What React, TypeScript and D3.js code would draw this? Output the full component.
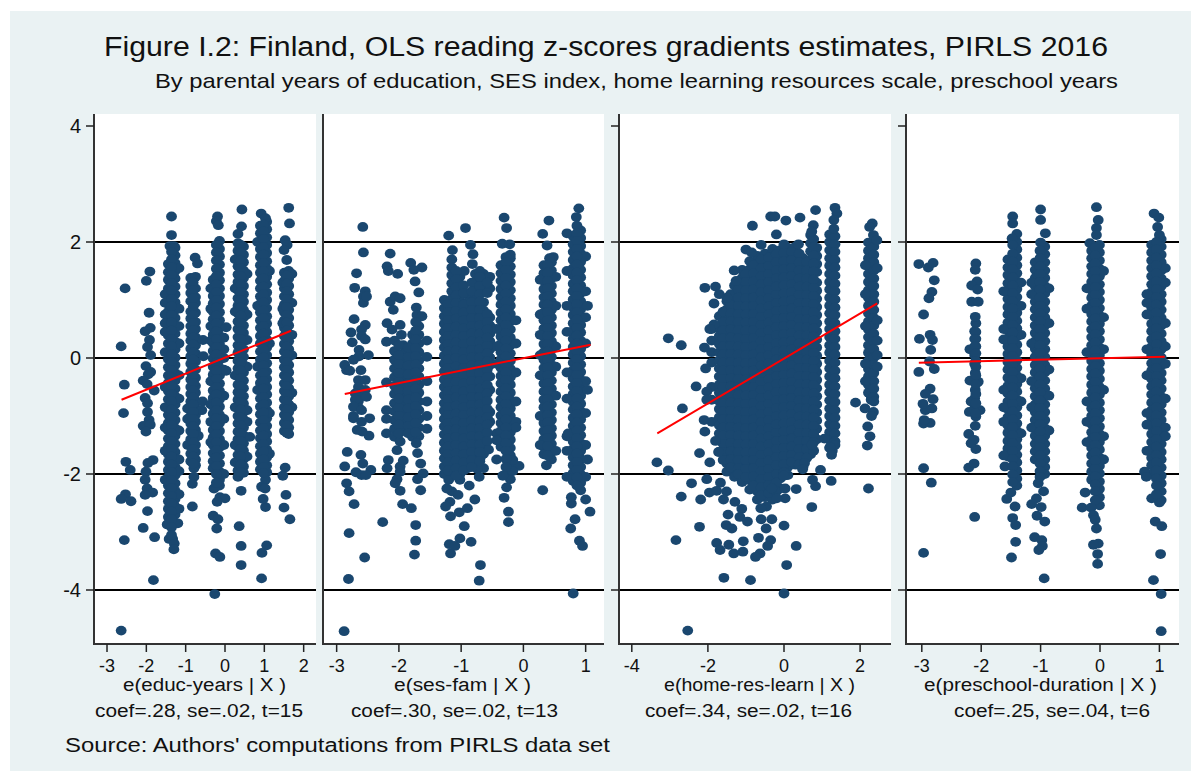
import React from "react";
import * as d3 from "d3";

// Each strand is [x, y, y, y ...].
const educOutliers = [
  [-2.54,1.2],[-2.64,.2],[-2.56,-.46],[-2.58,-.95],[-2.52,-1.79],[-2.41,-1.93],[-2.53,-2.35],[-2.64,-2.43],[-2.39,-2.47],[-2.56,-3.14],[-2.64,-4.7],
  [-1.91,1.49],[-2,1.33],[-1.93,.78],[-1.9,.52],[-2.03,.46],[-1.92,.31],[-1.97,.19],[-1.89,.05],[-2.01,-.14],[-1.89,-.24],[-1.95,-.28],[-2.08,-.39],[-1.98,-.45],[-1.8,-.56],[-2.03,-.69],[-1.97,-.78],[-1.97,-.93],[-1.93,-1.07],[-2.08,-1.17],[-1.9,-1.15],[-2.01,-1.27],[-1.83,-1.76],[-1.96,-1.81],[-2.01,-1.96],[-2.03,-2.1],[-1.98,-2.25],[-1.84,-2.32],[-2.03,-2.36],[-1.97,-2.64],[-2.08,-2.93],[-1.79,-3.09],[-1.82,-3.83],
];
const educCol1 = [
  [-1.44,1.62,1.48,1.35,1.2,1.07,.93,.8,.66,.52,.39,.25,.11,-.02,-.16,-.3,-.43,-.57,-.71,-.84,-.98,-1.12,-1.25,-1.39,-1.52,-1.66,-1.79,-1.93,-2.06,-2.2,-2.33,-2.47,-2.6,-2.74],
  [-1.27,1.9,1.77,1.64,1.5,1.37,1.23,1.1,.96,.83,.69,.55,.42,.28,.15,.01,-.12,-.26,-.39,-.53,-.66,-.8,-.94,-1.07,-1.21,-1.34,-1.48,-1.62,-1.75,-1.88,-2.02,-2.16,-2.29,-2.43,-2.56,-2.7,-2.84],
  [-1.52,1.1,.95,.75,.6,.45,.1,-.5,-.85,-1.2,-1.6,-2.1],
  [-1.17,1.55,.85,.55,.25,-.3,-.7,-1.25,-1.75,-1.95,-2.35,-2.6],
  [-1.36,2.44,2.12],[-1.4,1.93],[-1.3,1.93],[-1.47,-2.87],[-1.42,-3.12],[-1.33,-3.12],[-1.29,-3.2],[-1.3,-3.3],[-1.2,-2.85],
];
const educCol2 = [
  [-.87,1.38,1.24,1.12,.98,.8,.68,.55,.42,.3,.16,.03,-.1,-.24,-.37,-.5,-.62,-.75,-.88,-1,-1.13,-1.26,-1.4,-1.52,-1.65,-1.78],
  [-.75,1.4,1.2,1.05,.95,.78,.62,.5,.36,.22,.08,-.06,-.2,-.34,-.48,-.6,-.74,-.86,-.98,-1.1,-1.24,-1.37,-1.5,-1.62,-1.75,-1.85],
  [-.76,1.73],[-.7,1.63],[-.56,.31],[-.55,.03],[-.57,-.75],[-.59,-.9],[-.68,-1.34],[-.79,-1.9,-2.05],[-.83,-2.17,-2.56],[-.95,-.87,-1.05,-1.5],
];
const educCol3 = [
  [-.3,1.35,1.2,1.07,.94,.8,.67,.53,.4,.26,.12,-.01,-.15,-.29,-.42,-.56,-.69,-.83,-.96,-1.1,-1.24,-1.37,-1.5,-1.64,-1.78,-1.9],
  [-.14,2.02,1.88,1.75,1.61,1.47,1.34,1.2,1.07,.93,.79,.65,.52,.38,.24,.11,-.03,-.17,-.3,-.44,-.57,-.71,-.84,-.98,-1.12,-1.26,-1.4,-1.54,-1.68,-1.82,-1.96,-2.1,-2.2],
  [-.36,1.2,.85,.55,.3,-.4,-.8,-1.1,-1.45],
  [-.03,.35,.15,0,-.2,-.65,-1.05,-1.5,-2],
  [.03,.53,-.22],[-.19,2.44],[-.22,2.36],[-.17,2.29],[-.28,-2.25],[-.13,-2.4],[0,-2.42],[-.2,-2.48],[-.3,-2.72],[-.18,-2.78],[-.21,-2.94],[-.24,-3.37],[-.13,-3.43],[-.26,-4.07],
];
const educCol4 = [
  [.33,1.98,1.85,1.72,1.58,1.44,1.31,1.17,1.03,.9,.77,.63,.5,.36,.22,.09,-.05,-.18,-.32,-.46,-.59,-.72,-.86,-1,-1.13,-1.27,-1.4,-1.53,-1.67,-1.8,-1.94,-2.05],
  [.47,1.92,1.78,1.65,1.51,1.38,1.24,1.1,.97,.83,.7,.56,.43,.29,.15,.02,-.12,-.25,-.39,-.52,-.66,-.79,-.93,-1.06,-1.2,-1.33,-1.47,-1.6,-1.74,-1.87,-1.98],
  [.26,1.7,1.2,.8,-.3,-.85,-1.5,-1.8],[.56,1.45,.75,.31,-.15,-.9,-1.1,-1.7],[.63,-1.36],
  [.43,2.56],[.42,2.27],[.33,2.14],[.41,-2.29],[.36,-2.9],[.41,-3.24],[.41,-3.57],
];
const educCol5 = [
  [.9,2.28,2.15,2.01,1.88,1.74,1.6,1.47,1.33,1.2,1.06,.93,.79,.65,.52,.38,.25,.11,-.03,-.16,-.3,-.43,-.57,-.7,-.84,-.97,-1.11,-1.25,-1.38,-1.52,-1.65,-1.79,-1.92],
  [1.06,2.35,2.22,2.08,1.95,1.81,1.67,1.54,1.4,1.27,1.13,1,.86,.72,.59,.45,.32,.18,.05,-.09,-.23,-.36,-.5,-.63,-.77,-.9,-1.04,-1.17,-1.31,-1.44,-1.58,-1.71,-1.85,-1.97],
  [.83,2,.9,-.15,-.55],[1.13,1.5,.25,-.95,-1.65],
  [.92,2.49],[1.03,2.41],[1.03,-2.1,-2.57],[.93,-2.22],[1.02,-2.25],[.97,-2.43],[1.06,-3.23],[.94,-3.36],[.93,-3.8],
];
const educCol6 = [
  [1.51,1.47,1.33,1.2,1.06,.92,.79,.65,.52,.38,.24,.11,-.03,-.16,-.3,-.44,-.57,-.71,-.85,-.98,-1.12,-1.26],
  [1.62,1.5,1.37,1.24,1.1,.97,.83,.69,.56,.42,.29,.15,.02,-.12,-.25,-.39,-.52,-.66,-.8,-.93,-1.07,-1.2,-1.31],
  [1.47,1.3,.85,.6],[1.7,1.45,.95,.4,.05,-.6,-.85],
  [1.62,2.59],[1.64,2.32],[1.53,2.03],[1.58,1.95],[1.5,1.86],[1.57,1.69],[1.53,-1.89],[1.47,-2.03],[1.55,-2.36],[1.5,-2.58],[1.65,-2.78],
];
const educCore = [
  [-1.36,1.83,1.7,1.57,1.43,1.29,1.16,1.02,.89,.74,.61,.47,.33,.2,.06,-.07,-.21,-.34,-.48,-.62,-.75,-.89,-1.03,-1.16,-1.3,-1.43,-1.57,-1.7,-1.84,-1.97,-2.11,-2.24,-2.38,-2.51,-2.65,-2.78,-2.92,-3.05],
  [-.81,1.3,1.17,1.03,.88,.74,.6,.48,.35,.23,.1,-.03,-.17,-.3,-.43,-.56,-.68,-.8,-.93,-1.05,-1.18,-1.31,-1.45,-1.57,-1.7,-1.82],
  [-.22,1.95,1.82,1.68,1.54,1.41,1.27,1.14,1,.87,.73,.6,.46,.33,.19,.06,-.08,-.22,-.36,-.5,-.63,-.77,-.9,-1.04,-1.17,-1.31,-1.45,-1.59,-1.72,-1.86,-2,-2.15],
  [.4,1.95,1.82,1.68,1.55,1.41,1.27,1.14,1,.87,.73,.6,.46,.33,.19,.05,-.08,-.22,-.35,-.49,-.62,-.76,-.89,-1.03,-1.16,-1.3,-1.43,-1.57,-1.7,-1.84,-1.97],
  [.98,2.3,2.18,2.05,1.91,1.78,1.64,1.5,1.37,1.23,1.1,.96,.82,.69,.55,.42,.28,.15,.01,-.13,-.26,-.4,-.53,-.67,-.8,-.94,-1.07,-1.21,-1.34,-1.48,-1.61,-1.75,-1.88,-1.98],
  [1.57,1.42,1.28,1.15,1.02,.88,.74,.61,.47,.34,.2,.06,-.07,-.21,-.34,-.48,-.62,-.75,-.89,-1.02,-1.16,-1.29],
];

const sesCol1 = [
  [-2.58,2.26],[-2.57,1.82],[-2.68,1.46],[-2.71,1.21],[-2.54,1.15],[-2.57,1.06,.95],[-2.52,1.06],[-2.72,.67],[-2.54,.57],[-2.77,.44],[-2.6,.49,.38],[-2.54,.32],[-2.75,.27],[-2.64,.14,.03],[-2.49,.05],[-2.73,-.03],[-2.87,-.12],[-2.84,-.21],[-2.79,-.22],[-2.61,-.21],[-2.65,-.38,-.5,-.62,-.74,-.85],[-2.54,-.38,-.55],[-2.7,-.61,-.72],[-2.52,-.67],[-2.73,-.84,-1,-1.04],[-2.47,-1.04],[-2.6,-.9,-1.1],
  [-2.67,-1.24],[-2.48,-1.34],[-2.59,-1.27],[-2.83,-1.62],[-2.61,-1.67],[-2.58,-1.82],[-2.87,-1.87],[-2.45,-1.93],[-2.69,-1.97],[-2.6,-2.02],[-2.53,-2.02],[-2.84,-2.16],[-2.8,-2.3],[-2.72,-2.52],[-2.8,-3.02],[-2.55,-3.44],[-2.81,-3.81],[-2.88,-4.71],
];
const sesCol2 = [
  [-2.14,1.8,.97],[-2.19,1.58,.6],[-2.17,1.5],[-2.02,1.45],[-2.06,1.06],[-1.98,1.03,.57],[-2.09,.83],[-2.11,.49],[-1.96,.4],[-2.2,.28],
  [-2.2,-.42,-.9,-1.05,-1.3],
  [-2.07,.3,.12,-.03,-.18,-.33,-.48,-.62,-.78,-.92,-1.07,-1.22,-1.36],
  [-1.93,.22,.08,-.07,-.22,-.36,-.5,-.65,-.8,-.95,-1.1,-1.25],
  [-1.78,.4,.25,.1,-.05,-.2,-.35,-.5,-.64,-.8,-.94,-1.08,-1.22,-1.36],
  [-1.68,.7,.55,.4,.25,.1,-.04,-.18,-.32,-.46,-.6,-.75,-.9,-1.05,-1.2,-1.35],
  [-1.55,.3,.02,-.4,-.75,-1,-1.22],
  [-1.81,1.64],[-1.63,1.56],[-1.76,1.52],[-1.74,1.32],[-1.68,1.13],[-1.72,.87],[-1.71,.74],[-1.63,.72],
  [-1.98,-1.44,-1.87,-1.96,-2.29],[-2.03,-1.59,-2.09],[-2.17,-1.76],[-2.19,-1.9],[-1.93,-1.77],[-2.06,-2.16],[-1.94,-2.52],[-1.8,-2.59],[-2.26,-2.83],[-1.65,-2.28,-1.82],[-1.7,-2.09,-1.64],[-1.61,-1.99],[-1.72,-1.47],[-1.73,-2.88,-3.15],[-1.75,-3.39],
];
const sesCol3 = [
  [-1.27,1.0,.86,.72,.59,.45,.31,.18,.04,-.1,-.23,-.37,-.5,-.64,-.78,-.91,-1.05,-1.18,-1.32,-1.46,-1.6,-1.73,-1.87,-2],
  [-1.15,1.7,1.56,1.43,1.29,1.15,1.02,.88,.75,.61,.47,.34,.2,.07,-.07,-.2,-.34,-.48,-.61,-.75,-.88,-1.02,-1.16,-1.29,-1.43,-1.56,-1.7,-1.84,-1.97,-2.3],
  [-1.02,1.4,1.26,1.13,.99,.85,.72,.58,.44,.31,.17,.04,-.1,-.24,-.37,-.51,-.64,-.78,-.92,-1.05,-1.19,-1.32,-1.46,-1.6,-1.73,-1.87,-2,-2.1],
  [-.9,1.1,.96,.82,.68,.55,.41,.28,.14,0,-.13,-.27,-.4,-.54,-.68,-.81,-.95,-1.08,-1.22,-1.36,-1.49,-1.63,-1.76,-1.9],
  [-.77,1.45,1.31,1.17,1.03,.9,.76,.62,.49,.35,.21,.08,-.06,-.19,-.33,-.47,-.6,-.74,-.87,-1.01,-1.15,-1.28,-1.42,-1.56,-1.69,-1.85],
  [-.64,1.45,1.3,1.16,.96,.82,.69,.55,.41,.28,.14,0,-.13,-.27,-.41,-.54,-.68,-.82,-.95,-1.09,-1.23,-1.36,-1.5,-1.65,-1.9],
  [-.54,1.4,1.2,.7,.56,.42,.29,.15,.01,-.12,-.32,-.55,-.93,-1.1],
  [-1.2,2.11],[-1.14,1.86],[-.93,2.24],[-.85,1.95],[-.81,1.79],[-.82,1.62],[-.7,1.5],[-.95,1.5],
  [-1.23,-2.25],[-1.2,-2.1],[-1.05,-2.36],[-1.18,-2.48],[-1.25,-2.56],[-1.17,-2.73,-3.37],[-1.03,-2.66],[-.9,-2.59],[-.78,-2.44],[-.87,-2.2],[-.71,-2.05,-3.84],[-.74,-1.91],[-.69,-1.71,-3.57],[-.56,-1.58],[-.95,-2.9],[-1.02,-3.11],[-1.19,-3.21],[-1.1,-3.24],[-.84,-3.17],[-.55,-.94],[-.43,-1.3],
];
const sesCol4 = [
  [-.36,1.6,1.46,1.33,1.19,1.05,.92,.78,.65,.51,.37,.24,.1,-.03,-.17,-.31,-.44,-.58,-.72,-.85,-.99,-1.12,-1.26,-1.4,-1.53],
  [-.21,1.72,1.58,1.44,1.31,1.17,1.03,.9,.76,.63,.49,.35,.22,.08,-.05,-.19,-.33,-.46,-.6,-.73,-.87,-1,-1.14,-1.28,-1.41,-1.55,-1.68,-1.82,-1.95,-2.09],
  [-.12,.65,.25,-.25,-.75,-1.1,-1.2],[-.43,.5,.2,-.1,-1.42,-1.75],
  [-.31,2.42,-2.41],[-.27,2.24,-2.23],[-.34,1.97],[-.22,1.96],[-.21,1.78],[-.28,1.74],[-.24,-2.65,-2.83],[-.07,-1.86],[-.17,-1.76,-1.95],[-.33,-2.03],
];
const sesCol5 = [
  [.33,1.6,1.46,1.33,1.19,1.05,.92,.78,.65,.51,.37,.24,.1,-.03,-.17,-.31,-.44,-.58,-.72,-.85,-.99,-1.12,-1.26,-1.4,-1.53,-1.66],
  [.45,1.65,1.51,1.38,1.24,1.11,.97,.83,.7,.56,.43,.29,.15,.02,-.12,-.25,-.39,-.53,-.66,-.8,-.94,-1.07,-1.21,-1.34,-1.48,-1.62,-1.75],
  [.27,1.35,.75,.4,.05,-.3,-1.0,-1.5],[.52,1.4,.9,.2,-.15,-.65,-1.6],
  [.41,2.37],[.31,2.14,-2.28],[.38,1.94],[.48,1.74],[.42,1.72],[.37,-1.85],
];
const sesCol6 = [
  [.8,2.1,1.96,1.83,1.69,1.55,1.42,1.28,1.15,1.01,.87,.74,.6,.47,.33,.19,.06,-.08,-.21,-.35,-.49,-.62,-.76,-.89,-1.03,-1.17,-1.3,-1.44,-1.57,-1.71,-1.85,-1.98,-2.12],
  [.92,2.2,2.07,1.93,1.8,1.66,1.52,1.39,1.25,1.12,.98,.84,.71,.57,.44,.3,.16,.03,-.11,-.24,-.38,-.52,-.65,-.79,-.92,-1.06,-1.2,-1.33,-1.47,-1.6,-1.74,-1.88,-2.01,-2.15,-2.28],
  [.7,2.15,1.5,.9,.45,-.25,-.7,-1.35,-1.6,-2.05],[1,1.75,1.15,.7,.25,-.4,-.95,-1.5,-2.05,-2.44],[.72,-1.3],[1.03,.9,-.55,-1.75],
  [.89,2.58],[.85,2.43],[.86,2.28],[.77,-2.51,-2.4],[1.07,-2.65],[.83,-2.78],[.76,-2.94],[.9,-3.15],[.95,-3.24],[.8,-4.06],
];
const sesCore = [
  [-2,.22,.05,-.1,-.26,-.41,-.56,-.7,-.86,-1,-1.15,-1.3],
  [-1.85,.18,.02,-.13,-.28,-.43,-.57,-.72,-.87,-1.02,-1.17,-1.3],
  [-1.73,.62,.47,.32,.17,.03,-.11,-.25,-.39,-.53,-.68,-.83,-.97,-1.12,-1.28],
  [-1.21,.93,.79,.65,.52,.38,.24,.11,-.03,-.17,-.3,-.44,-.57,-.71,-.85,-.98,-1.12,-1.25,-1.39,-1.53,-1.66,-1.8,-1.94],
  [-1.08,1.5,1.36,1.22,1.08,.95,.81,.68,.54,.4,.27,.13,0,-.14,-.28,-.41,-.55,-.68,-.82,-.96,-1.09,-1.23,-1.36,-1.5,-1.64,-1.77,-1.9,-2.03],
  [-.96,1.25,1.12,.92,.78,.65,.51,.38,.24,.1,-.03,-.17,-.3,-.44,-.58,-.71,-.85,-.98,-1.12,-1.26,-1.39,-1.53,-1.66,-1.8,-1.94],
  [-.83,1.3,1.15,.96,.83,.69,.55,.42,.28,.14,.01,-.13,-.26,-.4,-.54,-.67,-.81,-.94,-1.08,-1.22,-1.35,-1.49,-1.62,-1.76,-1.88],
  [-.7,1.4,1.24,1.1,.97,.83,.69,.56,.42,.28,.15,.01,-.12,-.26,-.4,-.53,-.67,-.8,-.94,-1.08,-1.21,-1.35,-1.49,-1.62,-1.78],
  [-.58,1.3,1.12,.76,.62,.49,.35,.21,.08,-.06,-.2,-.33,-.47,-.61,-.74,-.88,-1.02,-1.15,-1.29,-1.43],
  [-.28,1.65,1.52,1.38,1.25,1.11,.97,.84,.7,.57,.43,.3,.16,.03,-.11,-.25,-.38,-.52,-.66,-.79,-.93,-1.06,-1.2,-1.33,-1.47,-1.6,-1.74,-1.88],
  [.39,1.6,1.47,1.33,1.2,1.06,.92,.79,.65,.52,.38,.24,.11,-.03,-.16,-.3,-.44,-.57,-.71,-.84,-.98,-1.11,-1.25,-1.38,-1.52,-1.68],
  [.86,2.15,2.02,1.88,1.75,1.61,1.47,1.34,1.2,1.07,.93,.79,.66,.52,.39,.25,.11,-.02,-.16,-.29,-.43,-.57,-.7,-.84,-.97,-1.11,-1.25,-1.38,-1.52,-1.65,-1.79,-1.93,-2.06,-2.2],
];

const homeBlob = [
  [-1.9,.5,.3,.1,-.08,-.5,-.72,-1.1],
  [-1.7,.72,.52,.38,.24,.1,-.04,-.18,-.32,-.46,-.6,-.74,-.88,-1.02,-1.16,-1.3,-1.62],
  [-1.5,.98,.84,.7,.56,.42,.28,.14,0,-.14,-.28,-.42,-.56,-.7,-.84,-.98,-1.12,-1.26,-1.4,-1.54,-1.68,-1.82,-1.96],
  [-1.3,1.25,1.11,.97,.83,.69,.55,.41,.27,.13,-.01,-.15,-.29,-.43,-.57,-.71,-.85,-.99,-1.13,-1.27,-1.41,-1.55,-1.69,-1.83,-1.97,-2.05],
  [-1.1,1.52,1.38,1.24,1.1,.96,.82,.68,.54,.4,.26,.12,-.02,-.16,-.3,-.44,-.58,-.72,-.86,-1,-1.14,-1.28,-1.42,-1.56,-1.7,-1.84,-1.98,-2.14],
  [-.9,1.67,1.53,1.39,1.25,1.11,.97,.83,.69,.55,.41,.27,.13,-.01,-.15,-.29,-.43,-.57,-.71,-.85,-.99,-1.13,-1.27,-1.41,-1.55,-1.69,-1.83,-1.97,-2.11,-2.27],
  [-.7,1.76,1.62,1.48,1.34,1.2,1.06,.92,.78,.64,.5,.36,.22,.08,-.06,-.2,-.34,-.48,-.62,-.76,-.9,-1.04,-1.18,-1.32,-1.46,-1.6,-1.74,-1.88,-2.02,-2.16,-2.3,-2.44],
  [-.5,1.8,1.66,1.52,1.38,1.24,1.1,.96,.82,.68,.54,.4,.26,.12,-.02,-.16,-.3,-.44,-.58,-.72,-.86,-1,-1.14,-1.28,-1.42,-1.56,-1.7,-1.84,-1.98,-2.12,-2.26,-2.4],
  [-.3,1.88,1.74,1.6,1.46,1.32,1.18,1.04,.9,.76,.62,.48,.34,.2,.06,-.08,-.22,-.36,-.5,-.64,-.78,-.92,-1.06,-1.2,-1.34,-1.48,-1.62,-1.76,-1.9,-2.04,-2.18,-2.32,-2.44],
  [-.1,1.86,1.72,1.58,1.44,1.3,1.16,1.02,.88,.74,.6,.46,.32,.18,.04,-.1,-.24,-.38,-.52,-.66,-.8,-.94,-1.08,-1.22,-1.36,-1.5,-1.64,-1.78,-1.92,-2.08,-2.25],
  [.1,1.9,1.76,1.62,1.48,1.34,1.2,1.06,.92,.78,.64,.5,.36,.22,.08,-.06,-.2,-.34,-.48,-.62,-.76,-.9,-1.04,-1.18,-1.32,-1.46,-1.6,-1.74,-1.88,-2.02],
  [.3,1.92,1.78,1.64,1.5,1.36,1.22,1.08,.94,.8,.66,.52,.38,.24,.1,-.04,-.18,-.32,-.46,-.6,-.74,-.88,-1.02,-1.16,-1.3,-1.44,-1.58,-1.72,-1.84],
  [.5,1.72,1.58,1.44,1.3,1.16,1.02,.88,.74,.6,.46,.32,.18,.04,-.1,-.24,-.38,-.52,-.66,-.8,-.94,-1.08,-1.22,-1.36,-1.5,-1.64,-1.78,-1.88],
  [.7,2.12,1.98,1.84,1.7,1.56,1.42,1.28,1.14,1,.86,.72,.58,.44,.3,.16,.02,-.12,-.26,-.4,-.54,-.68,-.82,-.96,-1.1,-1.24,-1.38,-1.52,-1.66],
  [.86,1.9,1.76,1.62,1.48,1.3,1.16,1.02,.88,.74,.6,.46,.32,.18,.04,-.1,-.24,-.38,-.52,-.66,-.8,-.94,-1.08,-1.22,-1.4],
];
const homeInner = [
  [-1.6,.8,.62,.48,.34,.2,.06,-.08,-.22,-.36,-.5,-.64,-.78,-.92,-1.06,-1.2,-1.34,-1.48,-1.62,-1.76],
  [-1.4,1.1,.91,.77,.63,.49,.35,.21,.07,-.07,-.21,-.35,-.49,-.63,-.77,-.91,-1.05,-1.19,-1.33,-1.47,-1.61,-1.75,-1.89],
  [-1.2,1.3,1.18,1.04,.9,.76,.62,.48,.34,.2,.06,-.08,-.22,-.36,-.5,-.64,-.78,-.92,-1.06,-1.2,-1.34,-1.48,-1.62,-1.76,-1.9,-2],
  [-1,1.45,1.31,1.17,1.03,.89,.75,.61,.47,.33,.19,.05,-.09,-.23,-.37,-.51,-.65,-.79,-.93,-1.07,-1.21,-1.35,-1.49,-1.63,-1.77,-1.91,-2.05],
  [-.8,1.6,1.46,1.32,1.18,1.04,.9,.76,.62,.48,.34,.2,.06,-.08,-.22,-.36,-.5,-.64,-.78,-.92,-1.06,-1.2,-1.34,-1.48,-1.62,-1.76,-1.9,-2.04,-2.2],
  [-.6,1.7,1.55,1.41,1.27,1.13,.99,.85,.71,.57,.43,.29,.15,.01,-.13,-.27,-.41,-.55,-.69,-.83,-.97,-1.11,-1.25,-1.39,-1.53,-1.67,-1.81,-1.95,-2.09,-2.23,-2.37],
  [-.4,1.73,1.59,1.45,1.31,1.17,1.03,.89,.75,.61,.47,.33,.19,.05,-.09,-.23,-.37,-.51,-.65,-.79,-.93,-1.07,-1.21,-1.35,-1.49,-1.63,-1.77,-1.91,-2.05,-2.19,-2.33],
  [-.2,1.79,1.65,1.51,1.37,1.23,1.09,.95,.81,.67,.53,.39,.25,.11,-.03,-.17,-.31,-.45,-.59,-.73,-.87,-1.01,-1.15,-1.29,-1.43,-1.57,-1.71,-1.85,-2,-2.15,-2.3],
  [0,1.81,1.67,1.53,1.39,1.25,1.11,.97,.83,.69,.55,.41,.27,.13,-.01,-.15,-.29,-.43,-.57,-.71,-.85,-.99,-1.13,-1.27,-1.41,-1.55,-1.69,-1.83,-1.97],
  [.2,1.83,1.69,1.55,1.41,1.27,1.13,.99,.85,.71,.57,.43,.29,.15,.01,-.13,-.27,-.41,-.55,-.69,-.83,-.97,-1.11,-1.25,-1.39,-1.53,-1.67,-1.79],
  [.4,1.8,1.65,1.51,1.37,1.23,1.09,.95,.81,.67,.53,.39,.25,.11,-.03,-.17,-.31,-.45,-.59,-.73,-.87,-1.01,-1.15,-1.29,-1.43,-1.57,-1.71,-1.83],
  [.6,1.65,1.51,1.37,1.23,1.09,.95,.81,.67,.53,.39,.25,.11,-.03,-.17,-.31,-.45,-.59,-.73,-.87,-1.01,-1.15,-1.29,-1.43,-1.57,-1.72],
  [.78,2.05,1.91,1.77,1.63,1.49,1.35,1.21,1.07,.93,.79,.65,.51,.37,.23,.09,-.05,-.19,-.33,-.47,-.61,-.75,-.89,-1.03,-1.17,-1.31,-1.45,-1.6],
  [1.27,2.05,1.93,1.79,1.65,1.52,1.38,1.24,1.11,.97,.83,.7,.56,.43,.29,.15,.02,-.12,-.25,-.39,-.53,-.66,-.8,-.94,-1.07,-1.21,-1.35,-1.48,-1.6],
  [2.29,1.95,1.8,1.67,1.53,1.4,1.26,1.12,.99,.85,.72,.58,.44,.31,.17,.04,-.1,-.24,-.37,-.51,-.65,-.72],
];
const homeStrands = [
  [1.2,2.13,2,1.86,1.72,1.59,1.45,1.31,1.18,1.04,.9,.77,.63,.5,.36,.22,.09,-.05,-.18,-.32,-.46,-.59,-.73,-.87,-1,-1.14,-1.28,-1.41,-1.55],
  [1.34,2.1,1.96,1.83,1.69,1.56,1.42,1.28,1.15,1.01,.87,.74,.6,.46,.33,.19,.06,-.08,-.22,-.35,-.49,-.62,-.76,-.9,-1.03,-1.17,-1.3,-1.44,-1.5],
  [2.22,1.99,1.85,1.72,1.58,1.45,1.31,1.17,1.04,.9,.77,.63,.49,.36,.22,.09,-.05,-.19,-.32,-.46,-.6],
  [2.36,1.92,1.78,1.65,1.51,1.37,1.24,1.1,.97,.83,.69,.56,.42,.29,.15,.01,-.12,-.26,-.4,-.53,-.67,-.75],
  [2.14,1.6,1.1,.55,-.1,-.4],[2.45,1.55,.65,.3,-.15,.05],
  [1.34,2.59],[1.39,2.49],[1.31,2.38,2.23],[.77,2.29],[.73,2.18],[2.32,2.32],[2.25,2.26],[2.35,2.12],[2.44,2.03],[1.88,-.77],[2.13,-.87],[2.35,-.93],[2.3,-1],[2.2,-1.18],[2.26,-1.35],[2.19,-1.51],[2.22,-2.25],
];
const homeOutliers = [
  [-3.04,.34],[-2.7,.22],[-2.67,-.87],[-2.31,-.49],[-2.08,1.21],[-1.8,1.23],[-1.84,.94,.58],[-1.95,.5],[-2.09,.18],[-2.06,-.18],[-2.03,-.58,-.72],[-2.1,-1.07],[-1.31,1.51],[-1.26,1.33],[-1,1.87],[-.85,1.82],[-.83,2.28],[-.35,2.44],[-.24,2.44],[.05,2.37],[.42,2.42],[.83,2.55],[-.2,2.13],[-.6,1.95],[0,1.96],[.38,1.96],[-1.5,1.04],[-1.7,1.1],
  [-3.34,-1.8],[-3.04,-1.94],[-2.08,-1.27],[-1.8,-1.43],[-2.22,-1.64],[-1.72,-1.62],[-1.95,-1.8],[-2.43,-2.16],[-2.03,-2.09],[-1.67,-2.15],[-2.7,-2.39],[-2.19,-2.44],[-1.96,-2.32],[-1.77,-2.29],[-1.51,-2.3],[-1.59,-2.44],[-1.29,-2.48],[-1.11,-2.6],[-.46,-2.56],[-.61,-2.59],[-1.47,-2.7],[-1.16,-2.74],[-.96,-2.82],[-.6,-2.78],[-.32,-2.78,-2.25],[-1.52,-2.88],[-1.37,-2.94],[-.47,-2.94],[0,-2.89,-4.06],[-2.22,-2.91],[-2.84,-3.14],[-1.77,-3.19],[-1.45,-3.22],[-1.07,-3.16],[-.67,-3.1],[-.35,-3.14],[-.43,-3.24],[-1.68,-3.31],[-1.32,-3.37],[-1.08,-3.34],[-.63,-3.37],[-.75,-3.43],[.32,-3.24,-2.26],[.07,-3.57],[-1.58,-3.79],[-.88,-3.83],[-2.53,-4.7],[.73,-2.57],[.83,-2.21],[1.24,-2.12],[.75,-2.1],[.96,-1.93],[.03,-2.42,-2.25],[-.01,-2.03],[.54,-1.81],[.49,-1.92],[1.06,-1.39],[1.21,-1.54],[1.25,-1.67],[.74,-1.5],[-.19,-2.42],
];

const preCol1 = [
  [-3.05,1.62,-.24],[-2.89,1.56],[-2.81,1.64],[-2.79,1.34,-.19],[-2.83,1.14,-.87],[-2.88,1.03],[-2.97,.75,-1.13,-1.9,-3.36],[-3.04,.33],[-2.86,.4,-.53,-1.12],[-2.82,.31],[-2.85,.14],[-2.87,-.06],[-2.94,-.62,-.9],[-2.81,-.71],[-2.98,-.79],[-2.96,-1.07],[-2.84,-2.15],
];
const preCol2 = [
  [-2.09,1.63,.6,-1.01,-1.57],[-2.1,1.52,.71,-.26,-.55,-1.17],[-2.07,1.32],[-2.16,1.25,.97],[-2.06,1.18],[-2.05,.97,-.41],[-2.11,.46,.33,.2,.05,-.1,-.7,-.87,-2.74],[-2.19,.15,-.39],[-2.17,-.75,-1.47],[-2.2,-.93],[-2.02,-.9],[-2.21,-1.31,-1.89],[-2.12,-1.41,-1.82],
  [-2.09,.45,.33,.2,.08,-.05,-.15,-.3,-.45,-.62,-.78,-.95],
];
const preCol3 = [
  [-1.55,1.7,1.56,1.43,1.29,1.16,1.02,.88,.75,.61,.48,.34,.2,.07,-.07,-.2,-.34,-.48,-.61,-.75,-.88,-1.02,-1.16,-1.29,-1.43,-1.56,-1.7],
  [-1.4,2,1.87,1.73,1.6,1.46,1.32,1.19,1.05,.91,.78,.64,.51,.37,.23,.1,-.04,-.17,-.31,-.45,-.58,-.72,-.85,-.99,-1.13,-1.26,-1.4,-1.53,-1.67,-1.8,-1.94,-2.08,-2.2],
  [-1.62,1.15,.5,.32,-.55,-.85,-1.1,-1.68],[-1.33,1.3,.9,.4,-.35,-.75,-1.3],
  [-1.47,2.44,2.32,-2.76],[-1.4,2.14],[-1.48,2.06],[-1.6,-1.87],[-1.57,-2.43],[-1.43,-2.56],[-1.42,-2.88,-3.17],[-1.49,-3.44],[-1.5,-2.32],
];
const preCol4 = [
  [-1.09,1.65,1.52,1.38,1.24,1.11,.97,.84,.7,.56,.43,.29,.16,.02,-.12,-.25,-.39,-.52,-.66,-.8,-.93,-1.07,-1.2,-1.34,-1.48,-1.61,-1.75],
  [-.93,1.92,1.79,1.65,1.51,1.38,1.24,1.11,.97,.83,.7,.56,.43,.29,.15,.02,-.12,-.25,-.39,-.53,-.66,-.8,-.93,-1.07,-1.21,-1.34,-1.48,-1.61,-1.75,-1.88,-2],
  [-1.15,1.3,1.1,.25,-.4,-.85,-1.2],[-.86,1.2,.6,-.2,-.65,-1.25],
  [-1,2.56,2.38,1.99],[-.92,2.15],[-1.04,-2.16],[-.95,-2.3],[-1.07,-2.42],[-1.15,-2.52],[-.99,-2.57],[-1.06,-2.72],[-.93,-2.82],[-1.1,-3.09],[-.98,-3.14],[-.97,-3.24],[-1.03,-3.31],[-.94,-3.8],
];
const preCol5 = [
  [-.14,1.85,1.72,1.58,1.45,1.31,1.17,1.04,.9,.76,.63,.49,.36,.22,.08,-.05,-.19,-.32,-.46,-.6,-.73,-.87,-1,-1.14,-1.28,-1.41,-1.55,-1.68,-1.82,-1.96,-2.1],
  [-.01,1.95,1.82,1.68,1.54,1.41,1.27,1.14,1,.86,.73,.59,.46,.32,.18,.05,-.09,-.22,-.36,-.5,-.63,-.77,-.9,-1.04,-1.18,-1.31,-1.45,-1.58,-1.72,-1.86,-1.99,-2.13,-2.26,-2.4,-2.54],
  [-.22,1.2,.85,.1,-.75,-1.1,-1.45],[.06,1.5,.7,.15,-.55,-1.35,-1.75],
  [-.06,2.6,2.24,2.12,-2.94],[-.03,2.38,-3.2],[-.17,1.98],[-.25,-2.32],[-.3,-2.58],[-.15,-2.58],[-.11,-2.71,-3.22],[-.08,-2.79],[-.04,-3.38,-3.55],
];
const preCol6 = [
  [.87,1.95,1.82,1.68,1.55,1.41,1.27,1.14,1,.87,.73,.59,.46,.32,.19,.05,-.09,-.22,-.36,-.49,-.63,-.77,-.9,-1.04,-1.17,-1.31,-1.45,-1.58,-1.72,-1.85,-2],
  [1.03,2.05,1.92,1.78,1.65,1.51,1.37,1.24,1.1,.97,.83,.69,.56,.42,.29,.15,.01,-.12,-.26,-.39,-.53,-.67,-.8,-.94,-1.07,-1.21,-1.35,-1.48,-1.62,-1.75,-1.89,-2.03,-2.16,-2.3,-2.45],
  [.79,1.1,.95,.75,.15,-.3,-.95,-1.15,-1.6],[1.1,1.55,1.3,.6,.2,-.1,-.7,-1.2,-1.35],
  [.91,2.49],[.99,2.42],[.97,2.26],[1,2.12,-2.49],[.75,-1.96],[.78,-2.05],[.87,-2.42],[.93,-2.82],[1.04,-2.9],[1.02,-3.38],[.9,-3.83],[1.03,-4.07,-4.71],
];
const preCore = [
  [-1.47,1.95,1.8,1.66,1.53,1.39,1.25,1.12,.98,.85,.71,.57,.44,.3,.17,.03,-.11,-.24,-.38,-.51,-.65,-.79,-.92,-1.06,-1.19,-1.33,-1.47,-1.6,-1.74,-1.87,-2.01,-2.14],
  [-1.01,1.85,1.72,1.58,1.45,1.31,1.18,1.04,.9,.77,.63,.5,.36,.22,.09,-.05,-.18,-.32,-.46,-.59,-.73,-.86,-1,-1.14,-1.27,-1.41,-1.54,-1.68,-1.82,-1.95,-2.05],
  [-.08,1.9,1.77,1.63,1.5,1.36,1.22,1.09,.95,.81,.68,.54,.41,.27,.13,0,-.14,-.27,-.41,-.55,-.68,-.82,-.95,-1.09,-1.23,-1.36,-1.5,-1.63,-1.77,-1.91,-2.04,-2.18,-2.3,-2.45],
  [.95,2,1.87,1.73,1.6,1.46,1.32,1.19,1.05,.92,.78,.64,.51,.37,.24,.1,-.04,-.17,-.31,-.44,-.58,-.72,-.85,-.99,-1.12,-1.26,-1.4,-1.53,-1.67,-1.8,-1.94,-2.08,-2.2,-2.35],
];

const educFit = [[-2.63,-.72],[1.68,.47]];
const sesFit = [[-2.87,-.62],[1.08,.23]];
const homeFit = [[-3.33,-1.3],[2.45,.94]];
const preFit = [[-3.05,-.08],[1.09,.02]];

const yTicks = [4, 2, 0, -2, -4];
const gridValues = [2, 0, -2, -4];
const educTicks = [-3, -2, -1, 0, 1, 2];
const sesTicks = [-3, -2, -1, 0, 1];
const homeTicks = [-4, -2, 0, 2];
const preTicks = [-3, -2, -1, 0, 1];

const points = (strands: number[][]) =>
  strands.flatMap(([x, ...ys]) => ys.map((y) => [x, y]));

const panels = [
  { left: 94, right: 316, x0: 225, unit: 39.33, ticks: educTicks, data: [educOutliers, educCol1, educCol2, educCol3, educCol4, educCol5, educCol6, educCore], fit: educFit,
    label: "e(educ-years | X )", lx: [123, 163], coef: "coef=.28, se=.02, t=15", cx: [95, 208], leftTicks: true },
  { left: 323, right: 604, x0: 523.4, unit: 62.25, ticks: sesTicks, data: [sesCol1, sesCol2, sesCol3, sesCol4, sesCol5, sesCol6, sesCore], fit: sesFit,
    label: "e(ses-fam | X )", lx: [394, 137], coef: "coef=.30, se=.02, t=13", cx: [351, 207], leftTicks: false },
  { left: 619, right: 891, x0: 784, unit: 38.05, ticks: homeTicks, data: [homeBlob, homeInner, homeStrands, homeOutliers], fit: homeFit,
    label: "e(home-res-learn | X )", lx: [664, 191], coef: "coef=.34, se=.02, t=16", cx: [645, 207], leftTicks: true },
  { left: 906, right: 1179, x0: 1100, unit: 59.4, ticks: preTicks, data: [preCol1, preCol2, preCol3, preCol4, preCol5, preCol6, preCore], fit: preFit,
    label: "e(preschool-duration | X )", lx: [924, 233], coef: "coef=.25, se=.04, t=6", cx: [954, 196], leftTicks: true },
];

const NAVY = "#1a476f";
const FONT = "'Liberation Sans', Arial, sans-serif";
const TEXT = "#111";

const y = d3.scaleLinear().domain([4, -4]).range([126, 590]);
const TOP = 114;
const BOTTOM = 644;

export default function App() {
  return (
    <svg width={1191} height={771} style={{ position: "absolute", left: 0, top: 0, display: "block" }} fontFamily={FONT}>
      <rect x={0} y={0} width={1191} height={771} fill="#ffffff" />
      <rect x={10} y={11} width={1181} height={760} fill="#eaf2f3" />
      <text x={104} y={56} fontSize={27} fill={TEXT} textLength={1004} lengthAdjust="spacingAndGlyphs">
        Figure I.2: Finland, OLS reading z-scores gradients estimates, PIRLS 2016
      </text>
      <text x={155} y={88} fontSize={21} fill={TEXT} textLength={963} lengthAdjust="spacingAndGlyphs">
        By parental years of education, SES index, home learning resources scale, preschool years
      </text>
      {panels.map((p, i) => {
        const x = d3.scaleLinear().domain([0, 1]).range([p.x0, p.x0 + p.unit]);
        const line = d3.line<number[]>().x((d) => x(d[0])).y((d) => y(d[1]));
        const pts = p.data.flatMap(points);
        return (
          <g key={i}>
            <rect x={p.left} y={TOP} width={p.right - p.left} height={BOTTOM - TOP} fill="#fff" />
            {gridValues.map((v) => (
              <line key={v} x1={p.left} x2={p.right} y1={y(v)} y2={y(v)} stroke="#000" strokeWidth={2} />
            ))}
            {pts.map((d, j) => (
              <ellipse key={j} cx={x(d[0])} cy={y(d[1])} rx={5.4} ry={4.9} fill={NAVY} />
            ))}
            <path d={line(p.fit) || ""} fill="none" stroke="#ff0000" strokeWidth={2} />
            <line x1={p.left} x2={p.left} y1={TOP} y2={BOTTOM + 1} stroke="#333" strokeWidth={2} />
            <line x1={p.left} x2={p.right} y1={BOTTOM} y2={BOTTOM} stroke="#333" strokeWidth={2} />
            {p.leftTicks && yTicks.map((v) => (
              <line key={v} x1={p.left - 8} x2={p.left} y1={y(v)} y2={y(v)} stroke="#222" strokeWidth={1.5} />
            ))}
            {p.ticks.map((t) => (
              <g key={t}>
                <line x1={x(t)} x2={x(t)} y1={BOTTOM} y2={BOTTOM + 8} stroke="#222" strokeWidth={1.5} />
                <text x={x(t)} y={672} fontSize={18} fill={TEXT} textAnchor="middle">{t}</text>
              </g>
            ))}
            <text x={p.lx[0]} y={691} fontSize={18} fill={TEXT} textLength={p.lx[1]} lengthAdjust="spacingAndGlyphs">{p.label}</text>
            <text x={p.cx[0]} y={717} fontSize={18} fill={TEXT} textLength={p.cx[1]} lengthAdjust="spacingAndGlyphs">{p.coef}</text>
          </g>
        );
      })}
      {yTicks.map((v) => (
        <text key={v} x={81} y={y(v) + 7} fontSize={20} fill={TEXT} textAnchor="end">{v}</text>
      ))}
      <text x={65} y={752} fontSize={20} fill={TEXT} textLength={545} lengthAdjust="spacingAndGlyphs">
        Source: Authors' computations from PIRLS data set
      </text>
    </svg>
  );
}
